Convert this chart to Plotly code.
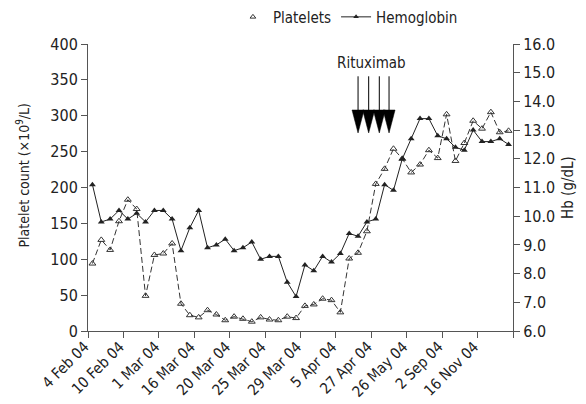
import plotly.graph_objects as go

# ---- data ----
platelets = [94, 127, 113, 153, 183, 170, 49, 106, 108, 122, 38, 22, 19, 29, 23, 15,
             20, 17, 13, 19, 16, 15, 20, 18, 35, 37, 45, 43, 26, 101, 109, 139,
             205, 226, 254, 240, 221, 232, 252, 241, 302, 237, 262, 293, 282, 305, 277, 279]
hemoglobin = [11.1, 9.8, 9.9, 10.2, 9.9, 10.1, 9.8, 10.2, 10.2, 9.9, 8.8, 9.6, 10.2, 8.9, 9.0, 9.2,
              8.8, 8.9, 9.1, 8.5, 8.6, 8.6, 7.7, 7.2, 8.3, 8.1, 8.6, 8.4, 8.7, 9.4, 9.3, 9.8,
              9.9, 11.1, 10.9, 12.0, 12.7, 13.4, 13.4, 12.8, 12.7, 12.4, 12.3, 13.0, 12.6, 12.6, 12.7, 12.5]
tick_labels = ["4 Feb 04", "10 Feb 04", "1 Mar 04", "16 Mar 04", "20 Mar 04", "25 Mar 04",
               "29 Mar 04", "5 Apr 04", "27 Apr 04", "26 May 04", "2 Sep 04", "16 Nov 04"]
label_step = 4
rituximab_doses = [30.0, 31.2, 32.4, 33.5]   # positions of the four arrows (category index)

n = len(platelets)
x = list(range(n))

FONT = "DejaVu Sans Condensed, Liberation Sans Narrow, Roboto, sans-serif"
INK = "#222222"
AX = "#555555"

fig = go.Figure()

fig.add_trace(go.Scatter(
    x=x, y=platelets, mode="lines+markers", name="Platelets", showlegend=False,
    line=dict(color="#333333", width=1, dash="6px,3px"),
    marker=dict(symbol="triangle-up-open", size=6, color="#333333", line=dict(width=1)),
    yaxis="y"))
fig.add_trace(go.Scatter(
    x=x, y=hemoglobin, mode="lines+markers", name="Hemoglobin", showlegend=False,
    line=dict(color="#222222", width=1),
    marker=dict(symbol="triangle-up", size=6, color="#222222"),
    yaxis="y2"))

# legend entries
fig.add_trace(go.Scatter(x=[None], y=[None], mode="markers", name="Platelets",
                         marker=dict(symbol="triangle-up-open", size=5, color="#333333")))
fig.add_trace(go.Scatter(x=[None], y=[None], mode="lines+markers", name="Hemoglobin",
                         line=dict(color="#222222", width=1),
                         marker=dict(symbol="triangle-up", size=5, color="#222222")))

# Rituximab arrows
shapes = []
for d in rituximab_doses:
    shapes.append(dict(type="line", xref="x", yref="y", x0=d, x1=d, y0=355, y1=305,
                       line=dict(color="black", width=1)))
    shapes.append(dict(type="path", xref="x", yref="y",
                       path=f"M {d-0.68},308 L {d+0.68},308 L {d},276 Z",
                       fillcolor="black", line=dict(color="black", width=0.5)))

fig.update_layout(
    width=578, height=396,
    margin=dict(l=80, r=73, t=36, b=73, autoexpand=False),
    paper_bgcolor="white", plot_bgcolor="white",
    font=dict(family=FONT, size=15, color=INK),
    shapes=shapes,
    annotations=[
        dict(x=31.5, y=374, xref="x", yref="y", text="Rituximab", showarrow=False,
             font=dict(size=15, family=FONT, color=INK)),
        dict(x=-0.153, y=0.545, xref="paper", yref="paper", textangle=-90,
             text="Platelet count (×10<sup>9</sup>/L)", showarrow=False,
             xanchor="center", yanchor="middle",
             font=dict(size=14, family=FONT, color=INK)),
    ],
    legend=dict(orientation="h", x=0.341, xanchor="left", yref="container", y=0.977,
                yanchor="middle",
                font=dict(size=15, family=FONT, color=INK), bgcolor="rgba(0,0,0,0)",
                itemwidth=30, tracegroupgap=0),
    xaxis=dict(range=[-0.5, n - 0.5], showgrid=False, zeroline=False, automargin=False,
               showline=True, linecolor=AX, linewidth=1,
               tickmode="array",
               tickvals=[i * label_step for i in range(len(tick_labels))],
               ticktext=tick_labels, ticks="", tickangle=-45, ticklabelshift=-8,
               tickfont=dict(size=15, family=FONT, color=INK),
               minor=dict(tickmode="array",
                          tickvals=[i * label_step - 0.5 for i in range(len(tick_labels) + 1)],
                          ticks="outside", ticklen=6, tickcolor=AX, showgrid=False)),
    yaxis=dict(range=[0, 400], dtick=50, showgrid=False, zeroline=False, automargin=False,
               showline=True, linecolor=AX, linewidth=1, ticks="outside", ticklen=6,
               tickcolor=AX, tickfont=dict(size=16, family=FONT, color=INK)),
    yaxis2=dict(range=[6, 16], dtick=1, tickformat=".1f", overlaying="y", side="right",
                showgrid=False, zeroline=False, showline=True, linecolor=AX, linewidth=1,
                ticks="outside", ticklen=6, tickcolor=AX, automargin=False,
                tickfont=dict(size=16, family=FONT, color=INK),
                title=dict(text="Hb (g/dL)", standoff=8,
                           font=dict(size=15, family=FONT, color=INK))),
)

fig.write_html("out.html")
